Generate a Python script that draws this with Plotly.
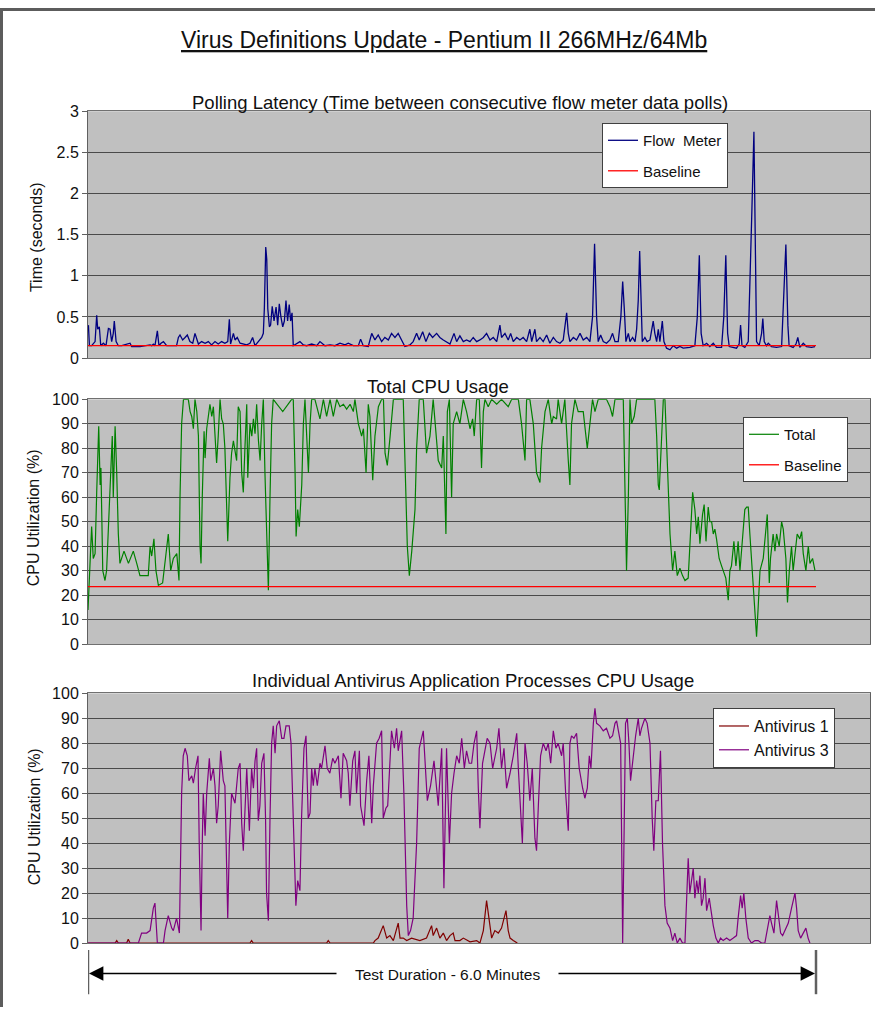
import plotly.graph_objects as go

# ---------------- DATA ----------------
# Polling latency (Flow Meter): time (s) and latency (s)
flow_t = [0.2, 0.7, 1.8, 3.5, 4.3, 4.8, 5.6, 6.3, 7.6, 8.9, 10.1, 10.9, 11.7, 12.5, 13.0, 13.9, 15.0, 16.7,
          20.8, 21.6, 25.7, 30.7, 31.5, 32.3, 33.1, 34.3, 35.1, 36.1, 37.3, 38.9, 43.8, 44.7, 45.5, 46.8,
          48.0, 49.1, 50.4, 51.8, 52.9, 53.7, 54.6, 56.2, 57.9, 59.5, 61.1, 62.8, 64.4, 66.1, 67.7, 69.1,
          69.9, 70.5, 71.9, 72.7, 73.8, 75.2, 76.8, 78.5, 80.1, 81.4, 82.6, 84.2, 85.9, 86.7, 87.2, 87.9,
          88.4, 88.9, 89.7, 90.3, 91.1, 92.0, 93.0, 93.8, 94.6, 95.4, 96.3, 97.1, 97.9, 98.7, 99.5, 100.2,
          100.9, 101.5, 103.2, 104.8, 106.5, 108.1, 110.6, 113.1, 114.7, 117.2, 119.7, 122.1, 124.6, 127.1,
          128.7, 131.2, 133.7, 134.8, 136.1, 138.6, 140.3, 141.9, 143.5, 145.2, 146.8, 148.5, 150.1, 151.8,
          153.4, 155.1, 156.7, 159.2, 160.8, 162.5, 163.8, 165.5, 167.1, 168.8, 170.4, 172.4, 174.0, 175.7,
          177.3, 179.0, 181.0, 182.3, 183.9, 185.6, 187.2, 188.9, 190.5, 192.2, 193.8, 195.5, 197.1, 198.8,
          200.4, 202.1, 203.7, 204.5, 206.2, 207.8, 209.0, 210.3, 212.0, 213.6, 215.2, 216.9, 218.5, 219.4,
          221.0, 221.8, 223.5, 225.1, 226.8, 228.4, 230.1, 231.7, 233.4, 235.0, 236.7, 237.5, 238.3, 240.0,
          241.6, 243.3, 244.9, 246.6, 248.2, 249.5, 250.5, 251.5, 252.3, 253.5, 254.8, 256.4, 258.1, 259.4,
          260.6, 262.2, 263.5, 264.4, 265.2, 266.0, 267.2, 268.0, 269.3, 270.5, 271.3, 272.1, 272.8, 273.4,
          274.1, 275.4, 276.5, 277.9, 279.5, 280.3, 281.2, 282.0, 282.8, 284.0, 284.8, 286.1, 287.8, 289.4,
          291.1, 292.7, 294.3, 297.6, 300.1, 301.3, 302.3, 303.2, 304.2, 305.9, 307.5, 309.2, 310.8, 313.3,
          314.4, 315.4, 316.3, 317.1, 319.1, 320.7, 322.0, 322.7, 323.4, 324.8, 326.5, 327.3, 328.3, 329.3,
          329.9, 330.6, 331.9, 333.1, 333.7, 334.4, 335.5, 336.4, 338.0, 340.5, 343.0, 344.1, 345.1, 346.1,
          346.7, 348.7, 350.1, 351.0, 352.0, 353.7, 355.3, 357.8, 359.5]
flow_v = [0.40, 0.15, 0.15, 0.20, 0.52, 0.35, 0.38, 0.15, 0.18, 0.15, 0.36, 0.35, 0.20, 0.30, 0.45, 0.20, 0.15, 0.15,
          0.18, 0.14, 0.14, 0.16, 0.15, 0.17, 0.15, 0.33, 0.15, 0.18, 0.20, 0.15, 0.15, 0.25, 0.28, 0.22,
          0.25, 0.28, 0.20, 0.18, 0.30, 0.25, 0.17, 0.20, 0.18, 0.20, 0.16, 0.20, 0.17, 0.20, 0.18, 0.20,
          0.47, 0.17, 0.30, 0.22, 0.25, 0.18, 0.17, 0.16, 0.18, 0.25, 0.15, 0.20, 0.25, 0.30, 0.60, 1.35,
          1.20, 0.60, 0.38, 0.40, 0.63, 0.45, 0.62, 0.40, 0.66, 0.50, 0.38, 0.45, 0.70, 0.45, 0.65, 0.45,
          0.55, 0.15, 0.18, 0.20, 0.16, 0.15, 0.17, 0.15, 0.20, 0.15, 0.16, 0.15, 0.18, 0.16,
          0.18, 0.15, 0.15, 0.23, 0.15, 0.14, 0.30, 0.22, 0.28, 0.20, 0.25, 0.22, 0.30, 0.25,
          0.30, 0.22, 0.14, 0.16, 0.20, 0.30, 0.22, 0.32, 0.20, 0.30, 0.25, 0.30, 0.25, 0.22,
          0.20, 0.17, 0.30, 0.20, 0.27, 0.20, 0.22, 0.20, 0.25, 0.20, 0.22, 0.25, 0.30, 0.22,
          0.25, 0.20, 0.40, 0.25, 0.30, 0.22, 0.30, 0.20, 0.25, 0.22, 0.25, 0.20, 0.35, 0.20,
          0.35, 0.20, 0.25, 0.20, 0.28, 0.18, 0.25, 0.20, 0.18, 0.22, 0.55, 0.30, 0.20, 0.25,
          0.22, 0.30, 0.22, 0.25, 0.20, 0.50, 1.39, 0.50, 0.20, 0.28, 0.20, 0.18, 0.22, 0.30,
          0.20, 0.20, 0.50, 0.93, 0.60, 0.20, 0.30, 0.20, 0.25, 0.20, 0.35, 0.70, 1.30, 0.60,
          0.20, 0.25, 0.20, 0.22, 0.45, 0.30, 0.20, 0.35, 0.20, 0.45, 0.20, 0.12, 0.10, 0.15,
          0.12, 0.14, 0.12, 0.13, 0.15, 0.50, 1.25, 0.30, 0.15, 0.18, 0.14, 0.18, 0.13, 0.13,
          0.50, 1.25, 0.30, 0.14, 0.13, 0.12, 0.17, 0.40, 0.15, 0.13, 0.20, 0.80, 1.80, 2.75,
          1.50, 0.20, 0.15, 0.30, 0.48, 0.20, 0.15, 0.18, 0.14, 0.13, 0.14, 0.80, 1.38, 0.40,
          0.15, 0.13, 0.17, 0.25, 0.13, 0.18, 0.14, 0.13, 0.14]
latency_baseline = 0.15

# Total CPU usage (%)
cpu_t = [0.0, 1.0, 1.8, 2.6, 3.5, 4.3, 5.3, 6.0, 6.4, 7.3, 8.4, 9.2, 10.6, 11.4, 12.0, 12.5, 13.4, 14.2, 15.0,
         15.8, 17.8, 20.0, 22.4, 24.1, 25.7, 29.8, 30.7, 31.5, 32.6, 33.6, 34.8, 36.9, 38.1, 39.7, 40.9,
         42.2, 43.9, 45.0, 45.5, 46.3, 47.2, 49.6, 50.5, 51.3, 52.1, 52.9, 53.8, 54.6, 55.4, 55.9, 56.5,
         57.4, 57.9, 58.7, 60.3, 61.2, 62.0, 62.8, 63.6, 64.4, 65.3, 66.1, 66.9, 67.7, 68.6, 69.1, 70.2,
         71.0, 71.9, 72.7, 73.5, 74.3, 75.2, 76.0, 76.8, 77.6, 78.5, 79.0, 80.1, 81.0, 81.8, 82.6, 83.4,
         84.3, 85.1, 85.9, 86.7, 87.5, 88.4, 89.2, 90.0, 90.8, 91.6, 96.3, 100.7, 101.5, 102.4, 102.9,
         103.7, 104.5, 105.7, 106.5, 107.3, 108.2, 109.0, 109.8, 110.6, 112.2, 114.7, 116.4, 118.0, 119.7,
         121.3, 123.0, 124.6, 126.3, 127.9, 129.6, 131.2, 132.0, 133.7, 135.3, 136.2, 137.5, 138.6, 139.4,
         140.8, 141.9, 143.6, 145.2, 146.1, 146.9, 148.0, 149.4, 151.0, 155.9, 156.8, 157.9, 158.9, 160.1,
         161.7, 162.5, 163.8, 165.8, 167.4, 169.1, 170.7, 173.2, 174.9, 175.7, 177.0, 177.7, 178.7, 179.8,
         180.6, 182.3, 183.9, 185.6, 187.2, 188.9, 190.2, 191.0, 192.2, 193.5, 194.6, 195.5, 196.3, 197.9,
         199.6, 202.1, 204.5, 207.8, 209.5, 212.8, 214.4, 216.1, 216.9, 218.5, 220.2, 221.8, 223.5, 224.3,
         226.0, 227.6, 229.3, 230.1, 231.7, 232.5, 234.2, 235.8, 237.5, 238.3, 239.1, 240.8, 242.4, 244.9,
         246.9, 247.9, 249.5, 250.7, 252.3, 256.4, 258.1, 259.4, 260.6, 264.7, 265.5, 266.3, 267.2, 268.0,
         268.8, 270.1, 271.3, 280.3, 281.2, 282.0, 282.5, 283.1, 284.5, 285.3, 286.1, 286.9, 287.8, 289.1,
         290.2, 291.4, 292.7, 294.0, 295.2, 296.8, 298.1, 299.0, 300.1, 301.0, 301.8, 302.6, 303.9, 304.7,
         305.6, 306.7, 307.5, 308.4, 309.2, 310.0, 310.8, 312.1, 313.3, 314.1, 315.4, 316.6, 317.4, 318.2,
         319.4, 320.4, 321.5, 322.4, 323.5, 324.8, 325.7, 326.5, 327.3, 328.6, 329.8, 330.6, 331.4, 332.3,
         333.9, 335.2, 335.9, 336.9, 337.5, 338.8, 339.7, 340.5, 341.8, 343.0, 343.8, 345.1, 345.9, 346.8,
         347.9, 348.7, 349.6, 350.7, 352.0, 352.9, 353.7, 355.0, 356.2, 357.0, 358.3, 359.5]
cpu_v = [14, 35, 48, 35, 37, 62, 89, 65, 72, 30, 26, 30, 55, 75, 85, 60, 89, 70, 45,
         33, 38, 33, 38, 33, 28, 28, 40, 36, 43, 30, 24, 25, 33, 45, 30,
         35, 37, 26, 60, 90, 100, 100, 95, 93, 88, 100, 95, 85, 40, 33, 60,
         87, 76, 88, 98, 93, 97, 85, 74, 85, 100, 92, 90, 80, 55, 42, 68,
         78, 83, 78, 75, 97, 95, 70, 62, 80, 98, 68, 90, 85, 92, 86, 98,
         83, 75, 90, 100, 70, 40, 22, 60, 90, 100, 95, 100, 100, 70, 44,
         55, 48, 65, 90, 100, 80, 70, 90, 100, 100, 92, 100, 93, 100,
         93, 100, 97, 98, 96, 98, 95, 100, 90, 85, 88, 70, 98, 93,
         67, 85, 97, 100, 100, 78, 73, 85, 100, 100, 70, 40, 28, 38,
         55, 80, 100, 100, 78, 85, 100, 75, 72, 85, 45, 95, 100, 60,
         90, 95, 90, 100, 95, 88, 92, 85, 100, 100, 72, 95, 100, 97,
         100, 98, 100, 97, 100, 100, 90, 75, 100, 100, 90, 70, 66, 80,
         95, 100, 90, 93, 92, 100, 90, 100, 75, 65, 90, 100, 95, 95,
         80, 88, 100, 95, 100, 100, 97, 93, 100, 100, 70, 30, 60, 100,
         90, 93, 100, 100, 85, 65, 63, 75, 100, 100, 80, 62, 45, 30,
         38, 28, 31, 28, 26, 27, 45, 62, 55, 45, 52, 41, 53, 57,
         42, 56, 50, 50, 45, 47, 43, 35, 32, 30, 27, 18, 30, 32,
         42, 32, 42, 30, 40, 55, 56, 56, 45, 30, 15, 3, 15, 30,
         35, 45, 53, 25, 35, 45, 38, 45, 40, 50, 47, 35, 17, 30,
         40, 30, 38, 45, 43, 46, 37, 30, 40, 33, 35, 30]
cpu_baseline = 23.5

# Antivirus 1 (%)
av1_t = [0.0, 13.4, 14.2, 15.0, 19.1, 19.9, 20.8, 80.1, 80.9, 81.7, 118.0, 118.8, 119.7, 141.1, 141.9, 143.5,
         146.0, 147.7, 149.3, 151.0, 153.4, 154.3, 155.9, 157.6, 160.0, 164.1, 167.4, 169.9, 170.7, 172.4,
         174.0, 175.7, 177.3, 179.0, 180.6, 181.5, 183.9, 185.6, 188.9, 192.2, 193.8, 195.5, 197.1, 198.4,
         199.6, 201.2, 202.9, 204.5, 206.7, 207.8, 208.7, 210.3, 212.3]
av1_v = [0, 0, 1, 0, 0, 1.5, 0, 0, 1, 0, 0, 1, 0, 0, 1, 2,
         7, 2, 3, 1, 8, 2, 2, 1, 2, 1, 2, 7, 3, 6,
         2, 4, 1, 3, 4, 1, 1, 2, 0.5, 1, 0, 5, 17, 8,
         2, 5, 4, 6, 13, 5, 2, 1, 0]

# Antivirus 3 (%)
av3_t = [0.0, 24.9, 26.5, 29.0, 30.7, 32.3, 33.1, 34.0, 34.3, 37.3, 38.1, 39.7, 41.4, 42.2, 43.8, 45.2,
         46.3, 47.1, 48.0, 49.1, 49.9, 51.3, 52.1, 53.2, 54.4, 55.0, 55.9, 56.5, 57.0, 57.9, 58.7, 60.0,
         60.7, 62.0, 62.8, 63.6, 64.4, 65.6, 66.9, 67.7, 68.6, 69.1, 69.9, 71.0, 72.7, 74.3, 75.2, 76.0,
         76.8, 78.5, 79.8, 80.9, 81.8, 82.6, 83.4, 84.2, 85.0, 85.9, 87.0, 87.8, 88.3, 89.2, 90.0, 90.8,
         91.6, 92.5, 93.3, 94.6, 95.8, 96.9, 97.9, 99.5, 100.4, 101.5, 102.8, 103.7, 104.8, 105.6, 106.8,
         107.8, 108.9, 109.8, 110.6, 111.4, 112.2, 113.4, 114.7, 115.5, 117.2, 118.3, 119.6, 121.0, 122.1,
         123.8, 125.1, 126.2, 127.9, 128.7, 129.5, 130.9, 132.0, 132.8, 134.2, 134.8, 136.5, 137.8, 138.9,
         140.3, 141.1, 142.7, 144.0, 145.2, 146.0, 147.3, 148.2, 150.1, 151.5, 152.6, 153.4, 155.1, 156.2,
         157.6, 158.4, 159.5, 160.8, 162.5, 163.8, 165.8, 166.9, 167.8, 169.4, 171.1, 173.2, 174.9, 176.0,
         177.3, 178.7, 179.8, 181.0, 182.3, 183.6, 184.8, 186.1, 187.2, 188.5, 189.7, 190.9, 192.2, 193.0,
         193.8, 195.1, 196.3, 197.4, 198.8, 200.1, 202.1, 203.2, 204.5, 205.7, 207.0, 208.7, 210.3, 212.0,
         212.8, 213.9, 214.8, 216.1, 217.2, 218.5, 219.7, 221.0, 221.8, 222.7, 223.8, 225.1, 226.5, 227.6,
         228.8, 230.1, 231.4, 232.5, 234.2, 235.0, 236.2, 237.5, 238.3, 239.1, 240.3, 241.6, 242.9, 244.6,
         245.7, 246.9, 247.9, 248.7, 249.9, 250.7, 251.5, 253.1, 254.8, 256.4, 258.1, 259.4, 260.6, 261.4,
         262.2, 263.4, 264.4, 265.0, 265.8, 266.7, 267.5, 268.3, 269.6, 270.8, 272.1, 272.9, 273.7, 275.4,
         276.5, 277.9, 279.0, 279.8, 280.8, 282.0, 283.1, 284.1, 285.3, 286.4, 287.8, 289.1, 290.2, 291.4,
         292.7, 294.0, 295.2, 296.0, 296.8, 297.6, 298.5, 299.3, 300.1, 301.0, 301.8, 302.6, 303.4, 304.2,
         305.1, 305.9, 307.2, 308.4, 309.2, 310.5, 311.7, 312.8, 314.1, 315.8, 317.4, 319.1, 320.7, 321.5,
         322.7, 323.5, 324.3, 325.3, 326.5, 328.1, 329.8, 331.4, 333.1, 334.7, 335.9, 337.2, 338.0, 339.2,
         340.5, 341.3, 342.5, 343.5, 344.6, 346.3, 347.9, 349.6, 350.4, 351.2, 352.4, 353.7, 355.0, 356.1,
         357.0]
av3_v = [0, 0, 4, 4, 5, 14, 16, 3, 0, 0, 5, 11, 6, 5, 10, 4,
         60, 75, 78, 75, 65, 67, 64, 70, 75, 40, 5, 40, 60, 43, 60, 74,
         65, 70, 63, 48, 55, 77, 65, 63, 25, 10, 40, 60, 56, 70, 72, 48,
         37, 70, 45, 70, 62, 73, 78, 49, 55, 72, 76, 50, 20, 9, 50, 80,
         87, 76, 87, 89, 82, 82, 87, 87, 80, 50, 15, 25, 21, 50, 78,
         83, 50, 52, 70, 63, 70, 63, 72, 70, 79, 70, 68, 74, 72,
         75, 58, 76, 73, 68, 55, 73, 77, 60, 77, 55, 47, 65, 75,
         48, 63, 80, 82, 85, 50, 54, 55, 85, 78, 86, 77, 85, 60,
         15, 3, 5, 10, 40, 78, 85, 70, 57, 63, 73, 55, 78, 22,
         78, 40, 60, 68, 75, 72, 82, 70, 77, 72, 72, 80, 85, 62,
         46, 72, 78, 82, 80, 70, 78, 86, 70, 78, 62, 68, 75, 84,
         70, 52, 40, 80, 72, 57, 70, 42, 37, 55, 75, 80, 77, 80,
         72, 85, 78, 80, 75, 80, 60, 45, 80, 83, 82, 84, 70, 62,
         58, 62, 75, 70, 88, 94, 88, 87, 85, 86, 82, 83, 88, 89,
         85, 80, 0, 30, 88, 90, 80, 65, 75, 83, 90, 83, 86, 90,
         88, 80, 50, 37, 57, 57, 77, 40, 15, 8, 6, 1, 4, 0,
         2, 0, 0, 15, 34, 20, 25, 30, 18, 25, 20, 27, 15, 18,
         26, 13, 18, 10, 7, 2, 0, 2, 1, 2, 1, 2, 3, 10,
         19, 14, 20, 10, 2, 0, 1, 1, 0, 0, 5, 11, 8, 4,
         17, 12, 4, 3, 5, 8, 14, 20, 14, 5, 2, 4, 6, 2,
         0]

test_minutes = 6.0
duration_label = "Test Duration - %.1f Minutes" % test_minutes

# ---------------- LAYOUT HELPERS ----------------
W, H = 875, 1016
FONT = "Arial, 'Liberation Sans', sans-serif"
t0, t1 = 0.0, test_minutes * 60.0
XMAX = t1 * 782.0 / 728.0

def px(x):
    return x / W

def py(y):
    return 1 - y / H

fig = go.Figure()
fig.add_trace(go.Scatter(x=flow_t, y=flow_v, mode="lines", name="Flow  Meter",
                         line=dict(color="#000080", width=1.3), xaxis="x", yaxis="y",
                         legend="legend", legendgroup="a"))
fig.add_trace(go.Scatter(x=[t0, t1], y=[latency_baseline] * 2, mode="lines", name="Baseline",
                         line=dict(color="#FF0000", width=1.3), xaxis="x", yaxis="y",
                         legend="legend", legendgroup="b"))
fig.add_trace(go.Scatter(x=cpu_t, y=cpu_v, mode="lines", name="Total",
                         line=dict(color="#008000", width=1.2), xaxis="x2", yaxis="y2",
                         legend="legend2", legendgroup="c"))
fig.add_trace(go.Scatter(x=[t0, t1], y=[cpu_baseline] * 2, mode="lines", name="Baseline",
                         line=dict(color="#FF0000", width=1.3), xaxis="x2", yaxis="y2",
                         legend="legend2", legendgroup="d"))
fig.add_trace(go.Scatter(x=av1_t, y=av1_v, mode="lines", name="Antivirus 1",
                         line=dict(color="#800000", width=1.2), xaxis="x3", yaxis="y3",
                         legend="legend3"))
fig.add_trace(go.Scatter(x=av3_t, y=av3_v, mode="lines", name="Antivirus 3",
                         line=dict(color="#800080", width=1.2), xaxis="x3", yaxis="y3",
                         legend="legend3"))

xdom = [px(88), px(870)]
xax = dict(domain=xdom, range=[0, XMAX], showticklabels=False, showgrid=False, zeroline=False,
           showline=True, linecolor="#707070", linewidth=1, mirror=True, ticks="", fixedrange=True)
yax = dict(showgrid=True, gridcolor="#4a4a4a", gridwidth=1, zeroline=False, showline=True,
           linecolor="#606060", linewidth=1, mirror=True, ticks="outside", ticklen=5,
           tickcolor="#606060", tickfont=dict(size=16, color="#111111", family=FONT))

legend_style = dict(bgcolor="white", bordercolor="#404040", borderwidth=1, xanchor="left",
                    yanchor="top", font=dict(size=15, family=FONT, color="#111111"),
                    itemclick=False)

fig.update_layout(
    width=W, height=H, margin=dict(l=0, r=0, t=0, b=0),
    paper_bgcolor="white", plot_bgcolor="#C0C0C0",
    font=dict(family=FONT, color="#111111"),
    xaxis=dict(xax, anchor="y"),
    yaxis=dict(yax, domain=[py(356), py(105)], range=[0, 3], dtick=0.5, anchor="x"),
    xaxis2=dict(xax, anchor="y2"),
    yaxis2=dict(yax, domain=[py(647), py(398)], range=[0, 100], dtick=10, anchor="x2"),
    xaxis3=dict(xax, anchor="y3"),
    yaxis3=dict(yax, domain=[py(951), py(697)], range=[0, 100], dtick=10, anchor="x3"),
    legend=dict(legend_style, x=px(602), y=py(117), tracegroupgap=8),
    legend2=dict(legend_style, x=px(743), y=py(416), tracegroupgap=8),
    legend3=dict(legend_style, x=px(713), y=py(712), font=dict(size=16, family=FONT, color="#111111")),
    showlegend=True,
)

annotations = [
    dict(text="<u>Virus Definitions Update - Pentium II 266MHz/64Mb</u>", x=px(444), y=py(33),
         font=dict(size=23, family=FONT, color="#111111")),
    dict(text="Polling Latency (Time between consecutive flow meter data polls)", x=px(460), y=py(96),
         font=dict(size=18.5, family=FONT, color="#111111")),
    dict(text="Total CPU Usage", x=px(438), y=py(385), font=dict(size=18.5, family=FONT, color="#111111")),
    dict(text="Individual Antivirus Application Processes CPU Usage", x=px(473), y=py(684),
         font=dict(size=18.5, family=FONT, color="#111111")),
    dict(text="Time (seconds)", x=px(36), y=py(233), textangle=-90,
         font=dict(size=16, family=FONT, color="#111111")),
    dict(text="CPU Utilization (%)", x=px(33), y=py(519), textangle=-90,
         font=dict(size=16, family=FONT, color="#111111")),
    dict(text="CPU Utilization (%)", x=px(34), y=py(823), textangle=-90,
         font=dict(size=16, family=FONT, color="#111111")),
    dict(text=duration_label, x=px(447), y=py(983), font=dict(size=15.5, family=FONT, color="#111111")),
]
for a in annotations:
    a.update(xref="paper", yref="paper", showarrow=False, xanchor="center", yanchor="middle")

# double-headed "Test Duration" marker, drawn from the data's start/end times
left_tail = t1 * (338 - 88) / 728.0
right_tail = t1 * (557 - 88) / 728.0
annotations.append(dict(x=t0, y=py(982), xref="x3", yref="paper", ax=left_tail, ay=0, axref="x3",
                        ayref="pixel", showarrow=True, arrowhead=2, arrowsize=1.8, arrowwidth=1.6,
                        arrowcolor="#000000", text="", standoff=1))
annotations.append(dict(x=t1, y=py(982), xref="x3", yref="paper", ax=right_tail, ay=0, axref="x3",
                        ayref="pixel", showarrow=True, arrowhead=2, arrowsize=1.8, arrowwidth=1.6,
                        arrowcolor="#000000", text="", standoff=1))
fig.update_layout(annotations=annotations)

shapes = [
    dict(type="line", xref="x3", yref="paper", x0=t0, x1=t0, y0=py(1003), y1=py(958),
         line=dict(color="#606060", width=2.5)),
    dict(type="line", xref="x3", yref="paper", x0=t1, x1=t1, y0=py(1003), y1=py(958),
         line=dict(color="#606060", width=2.5)),
    dict(type="rect", xref="paper", yref="paper", x0=0, x1=px(3), y0=0, y1=1,
         fillcolor="#5c5c5c", line=dict(width=0)),
    dict(type="rect", xref="paper", yref="paper", x0=0, x1=1, y0=py(3), y1=1,
         fillcolor="#5c5c5c", line=dict(width=0)),
]
fig.update_layout(shapes=shapes)

page_fix = (
    "document.documentElement.style.cssText='margin:0;padding:0;overflow:hidden;background:#ffffff';"
    "document.body.style.cssText='margin:0;padding:0;overflow:hidden;background:#ffffff';"
)

fig.write_html(
    "out.html",
    config={"displayModeBar": False},
    post_script=page_fix,
)
